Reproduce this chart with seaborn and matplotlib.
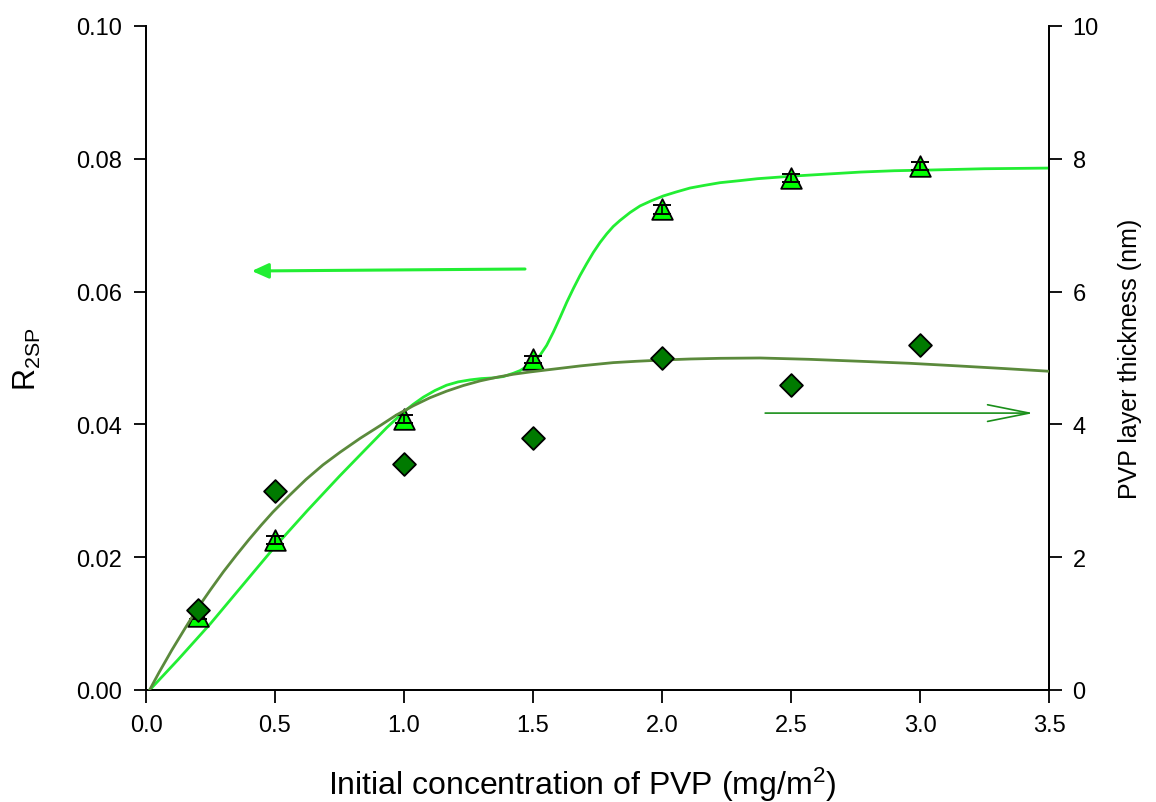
import numpy as np
import pandas as pd
import matplotlib
matplotlib.use("Agg")
import matplotlib.pyplot as plt
import seaborn as sns

# Measured data
conc = [0.2, 0.5, 1.0, 1.5, 2.0, 2.5, 3.0]
r2sp = [0.0112, 0.0226, 0.0408, 0.0498, 0.0724, 0.0771, 0.0789]
r2sp_err = [0.0005, 0.0006, 0.0006, 0.0005, 0.0007, 0.0006, 0.0006]
thickness = [1.2, 3.0, 3.4, 3.8, 5.0, 4.6, 5.2]

# Fitted curve for R2SP (left axis)
fit_r_x = [0.0, 0.125, 0.25, 0.375, 0.5, 0.625, 0.75, 0.85, 0.933, 0.997, 1.035,
           1.075, 1.12, 1.165, 1.21, 1.256, 1.3, 1.346, 1.385, 1.424, 1.45, 1.475,
           1.5, 1.527, 1.553, 1.579, 1.605, 1.631, 1.657, 1.682, 1.708, 1.734,
           1.76, 1.786, 1.811, 1.837, 1.876, 1.915, 1.96, 2.005, 2.055, 2.109,
           2.165, 2.225, 2.3, 2.37, 2.44, 2.51, 2.64, 2.77, 2.9, 3.03, 3.25, 3.5]
fit_r_y = [-0.0006, 0.0046, 0.0100, 0.0158, 0.0216, 0.0270, 0.0322, 0.0362,
           0.0395, 0.0418, 0.0430, 0.0441, 0.0451, 0.0459, 0.0464, 0.0467, 0.0469,
           0.0470, 0.0472, 0.0477, 0.0481, 0.0487, 0.0494, 0.0504, 0.0519, 0.0539,
           0.0561, 0.0584, 0.0605, 0.0624, 0.0642, 0.0659, 0.0674, 0.0687, 0.0698,
           0.0707, 0.0719, 0.0729, 0.0737, 0.0744, 0.0750, 0.0756, 0.0760, 0.0764,
           0.0767, 0.0770, 0.0772, 0.0774, 0.0777, 0.0780, 0.0782, 0.0783, 0.0785,
           0.0786]

# Fitted curve for layer thickness (right axis)
fit_t_x = [0.0, 0.05, 0.1, 0.15, 0.198, 0.25, 0.3, 0.35, 0.4, 0.446, 0.492, 0.556,
           0.62, 0.686, 0.752, 0.83, 0.907, 0.97, 1.036, 1.1, 1.165, 1.23, 1.295,
           1.36, 1.424, 1.49, 1.553, 1.618, 1.682, 1.746, 1.811, 1.9, 2.005, 2.11,
           2.225, 2.38, 2.57, 2.77, 2.96, 3.15, 3.33, 3.5]
fit_t_y = [-0.1, 0.26, 0.6, 0.92, 1.22, 1.51, 1.78, 2.03, 2.27, 2.48, 2.68, 2.93,
           3.17, 3.39, 3.58, 3.79, 3.98, 4.14, 4.28, 4.40, 4.50, 4.585, 4.655,
           4.71, 4.755, 4.79, 4.82, 4.85, 4.88, 4.905, 4.93, 4.95, 4.97, 4.985,
           4.995, 5.0, 4.98, 4.95, 4.92, 4.88, 4.84, 4.80]

xticks = [0.0, 0.5, 1.0, 1.5, 2.0, 2.5, 3.0, 3.5]
yticks_left = [0.00, 0.02, 0.04, 0.06, 0.08, 0.10]
yticks_right = [0, 2, 4, 6, 8, 10]

sns.set_style("ticks")
plt.rcParams["font.family"] = ["Liberation Sans", "DejaVu Sans"]
plt.rcParams["mathtext.fontset"] = "custom"
plt.rcParams["mathtext.rm"] = "Liberation Sans"
plt.rcParams["mathtext.it"] = "Liberation Sans"
plt.rcParams["text.color"] = "black"
plt.rcParams["axes.labelcolor"] = "black"

LIGHT = "#22ee33"
MARK_LIGHT = "#00ff00"
DARK_LINE = "#5b8a3c"
DARK_MARK = "#007a00"
ARROW_DARK = "#1a8f1a"

fig = plt.figure(figsize=(11.56, 8.03), dpi=100)
ax = fig.add_axes([0.1263, 0.1395, 0.9074 - 0.1263, 0.9664 - 0.1395])
ax2 = ax.twinx()

df_pts = pd.DataFrame({"conc": conc, "r2sp": r2sp, "thickness": thickness})
df_fr = pd.DataFrame({"x": fit_r_x, "y": fit_r_y})
df_ft = pd.DataFrame({"x": fit_t_x, "y": fit_t_y})

# Left axis: R2SP
sns.lineplot(data=df_fr, x="x", y="y", ax=ax, color=LIGHT, lw=2.0, sort=False,
             estimator=None, zorder=3, solid_joinstyle="round")
sns.scatterplot(data=df_pts, x="conc", y="r2sp", ax=ax, marker="^", s=220,
                color=MARK_LIGHT, edgecolor="black", linewidth=1.3, zorder=4)
ax.errorbar(conc, r2sp, yerr=r2sp_err, fmt="none", ecolor="black", elinewidth=1.2,
            capsize=6.5, capthick=1.4, zorder=5)
ax.annotate("", xy=(0.41, 0.0631), xytext=(1.469, 0.0634),
            arrowprops=dict(arrowstyle="-|>,head_length=1.0,head_width=0.45",
                            color=LIGHT, lw=2.2, shrinkA=0, shrinkB=0))

# Right axis: layer thickness
sns.lineplot(data=df_ft, x="x", y="y", ax=ax2, color=DARK_LINE, lw=2.0, sort=False,
             estimator=None, zorder=3, solid_joinstyle="round")
sns.scatterplot(data=df_pts, x="conc", y="thickness", ax=ax2, marker="D", s=135,
                color=DARK_MARK, edgecolor="black", linewidth=1.3, zorder=4)
ax2.annotate("", xy=(3.44, 4.17), xytext=(2.4, 4.17),
             arrowprops=dict(arrowstyle="->,head_length=3.0,head_width=0.6",
                             color=ARROW_DARK, lw=1.2, shrinkA=0, shrinkB=0))

ax.set_xlim(0, 3.5)
ax.set_ylim(0, 0.10)
ax2.set_ylim(0, 10)
ax.set_xticks(xticks)
ax.set_xticklabels([f"{v:.1f}" for v in xticks])
ax.set_yticks(yticks_left)
ax.set_yticklabels([f"{v:.2f}" for v in yticks_left])
ax2.set_yticks(yticks_right)
ax2.set_yticklabels([str(v) for v in yticks_right])

for a in (ax, ax2):
    a.tick_params(direction="out", length=9, width=1.3, labelsize=17,
                  colors="black", labelcolor="black")
    for sp in a.spines.values():
        sp.set_linewidth(1.3)
        sp.set_color("black")
    a.spines["top"].set_visible(False)
ax.tick_params(axis="x", pad=8)
ax.tick_params(axis="y", pad=8)
ax2.tick_params(axis="y", pad=8)

ax.set_xlabel("Initial concentration of PVP (mg/m$^2$)", fontsize=23, labelpad=20)
ax.xaxis.set_label_coords(0.483, -0.112)
ax.set_ylabel("R$_{2SP}$", fontsize=22, labelpad=24)
ax2.set_ylabel("PVP layer thickness (nm)", fontsize=18, labelpad=14)

fig.savefig("out.png", dpi=100)
